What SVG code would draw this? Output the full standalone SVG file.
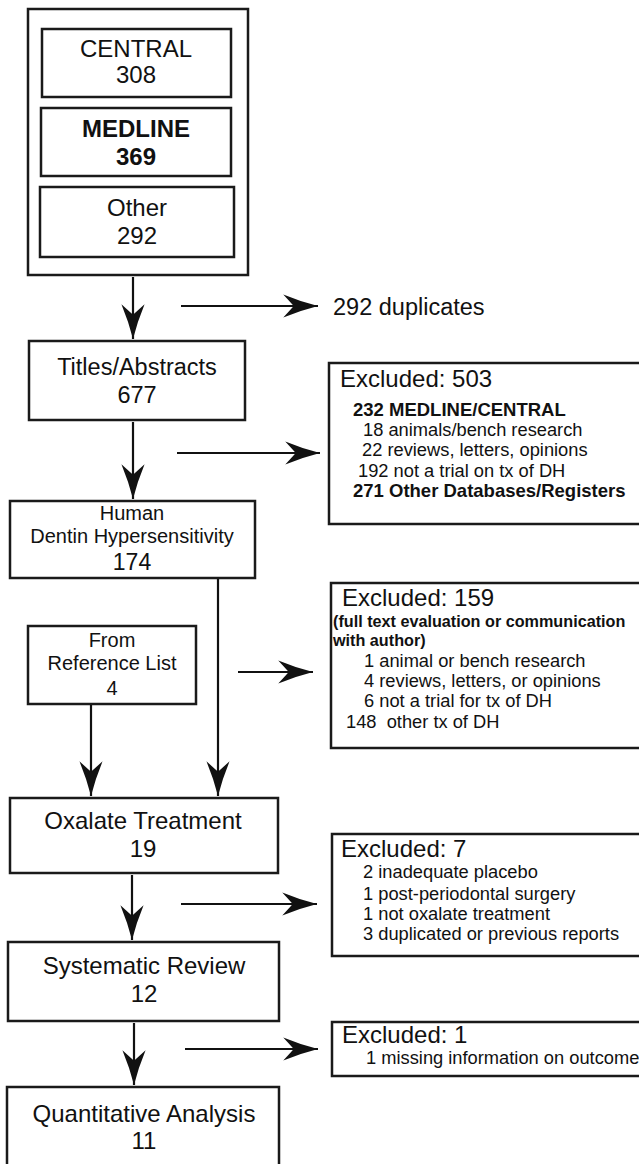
<svg xmlns="http://www.w3.org/2000/svg" width="639" height="1164" viewBox="0 0 639 1164">
<style>
.box{fill:#fff;stroke:#1a1a1a;stroke-width:2.5}
.t{font-family:"Liberation Sans",Arial,sans-serif;fill:#111}
.c{text-anchor:middle}
.big{font-size:24px}
.mid{font-size:20px}
.sm{font-size:18.3px}
.b{font-weight:bold}
.ln{stroke:#111;stroke-width:2.2;fill:none;marker-end:url(#ah)}
</style>
<defs>
<marker id="ah" markerUnits="userSpaceOnUse" markerWidth="40" markerHeight="30" viewBox="-36 -13 38 26" refX="0" refY="0" orient="auto">
<path d="M0,0 Q-16,-4 -33,-11 L-23,0 L-33,11 Q-16,4 0,0 Z" fill="#111"/>
</marker>
</defs>
<rect width="639" height="1164" fill="#fff"/>
<g id="sources">
<rect class="box" x="28" y="9" width="220" height="266"/>
<g id="central"><rect class="box" x="42" y="29" width="189" height="68"/>
<text class="t c big" x="136" y="57">CENTRAL</text><text class="t c big" x="136" y="83">308</text></g>
<g id="medline"><rect class="box" x="41" y="108" width="190" height="68"/>
<text class="t c big b" x="136" y="137">MEDLINE</text><text class="t c big b" x="136" y="165">369</text></g>
<g id="other"><rect class="box" x="40" y="187" width="194" height="70"/>
<text class="t c big" x="137" y="216">Other</text><text class="t c big" x="137" y="244">292</text></g>
</g>
<g id="duplicates"><text class="t" x="333" y="315" style="font-size:23.5px">292 duplicates</text></g>
<g id="titles"><rect class="box" x="29" y="341" width="216" height="79"/>
<text class="t c" x="137" y="375" style="font-size:23.5px">Titles/Abstracts</text><text class="t c" x="137" y="403" style="font-size:23.5px">677</text></g>
<g id="excl503"><rect class="box" x="329" y="363" width="320" height="161"/>
<text class="t big" x="340" y="387">Excluded: 503</text>
<text class="t b" x="353" y="416" style="font-size:18.5px">232 MEDLINE/CENTRAL</text>
<text class="t sm" x="363" y="436">18 animals/bench research</text>
<text class="t sm" x="362" y="456">22 reviews, letters, opinions</text>
<text class="t sm" x="358" y="477">192 not a trial on tx of DH</text>
<text class="t b" x="353" y="497" style="font-size:18.5px">271 Other Databases/Registers</text></g>
<g id="human"><rect class="box" x="10" y="501" width="245" height="77"/>
<text class="t c mid" x="132" y="520">Human</text>
<text class="t c mid" x="132" y="543">Dentin Hypersensitivity</text>
<text class="t c" x="132" y="570" style="font-size:23px">174</text></g>
<g id="excl159"><rect class="box" x="331" y="583" width="318" height="165"/>
<text class="t big" x="342" y="606">Excluded: 159</text>
<text class="t b" x="333" y="627" style="font-size:16.2px">(full text evaluation or communication</text>
<text class="t b" x="333" y="646" style="font-size:16.2px">with author)</text>
<text class="t sm" x="364" y="667">1 animal or bench research</text>
<text class="t sm" x="364" y="687">4 reviews, letters, or opinions</text>
<text class="t sm" x="364" y="707">6 not a trial for tx of DH</text>
<text class="t sm" x="346" y="728" xml:space="preserve">148  other tx of DH</text></g>
<g id="reflist"><rect class="box" x="28" y="626" width="168" height="78"/>
<text class="t c mid" x="112" y="647">From</text>
<text class="t c mid" x="112" y="670">Reference List</text>
<text class="t c mid" x="112" y="695">4</text></g>
<g id="oxalate"><rect class="box" x="10" y="798" width="268" height="75"/>
<text class="t c big" x="143" y="829">Oxalate Treatment</text><text class="t c big" x="143" y="857">19</text></g>
<g id="excl7"><rect class="box" x="332" y="834" width="317" height="122"/>
<text class="t big" x="341" y="857">Excluded: 7</text>
<text class="t sm" x="363" y="878">2 inadequate placebo</text>
<text class="t sm" x="363" y="900">1 post-periodontal surgery</text>
<text class="t sm" x="363" y="920">1 not oxalate treatment</text>
<text class="t sm" x="363" y="940">3 duplicated or previous reports</text></g>
<g id="systematic"><rect class="box" x="8" y="942" width="271" height="79"/>
<text class="t c big" x="144" y="974">Systematic Review</text><text class="t c big" x="144" y="1002">12</text></g>
<g id="excl1"><rect class="box" x="332" y="1022" width="317" height="54"/>
<text class="t big" x="342" y="1043">Excluded: 1</text>
<text class="t sm" x="366" y="1064">1 missing information on outcome</text></g>
<g id="quant"><rect class="box" x="7" y="1087" width="272" height="90"/>
<text class="t c big" x="144" y="1122">Quantitative Analysis</text><text class="t c big" x="144" y="1149">11</text></g>
<g id="connectors">
<line class="ln" x1="133" y1="277" x2="133" y2="339"/>
<line class="ln" x1="181" y1="306" x2="318" y2="306"/>
<line class="ln" x1="133" y1="422" x2="133" y2="499"/>
<line class="ln" x1="177" y1="453" x2="320" y2="453"/>
<line class="ln" x1="218" y1="579" x2="218" y2="796"/>
<line class="ln" x1="91" y1="705" x2="91" y2="796"/>
<line class="ln" x1="238" y1="672" x2="313" y2="672"/>
<line class="ln" x1="132" y1="875" x2="132" y2="940"/>
<line class="ln" x1="181" y1="904" x2="317" y2="904"/>
<line class="ln" x1="134" y1="1023" x2="134" y2="1085"/>
<line class="ln" x1="185" y1="1049" x2="318" y2="1049"/>
</g>
</svg>
